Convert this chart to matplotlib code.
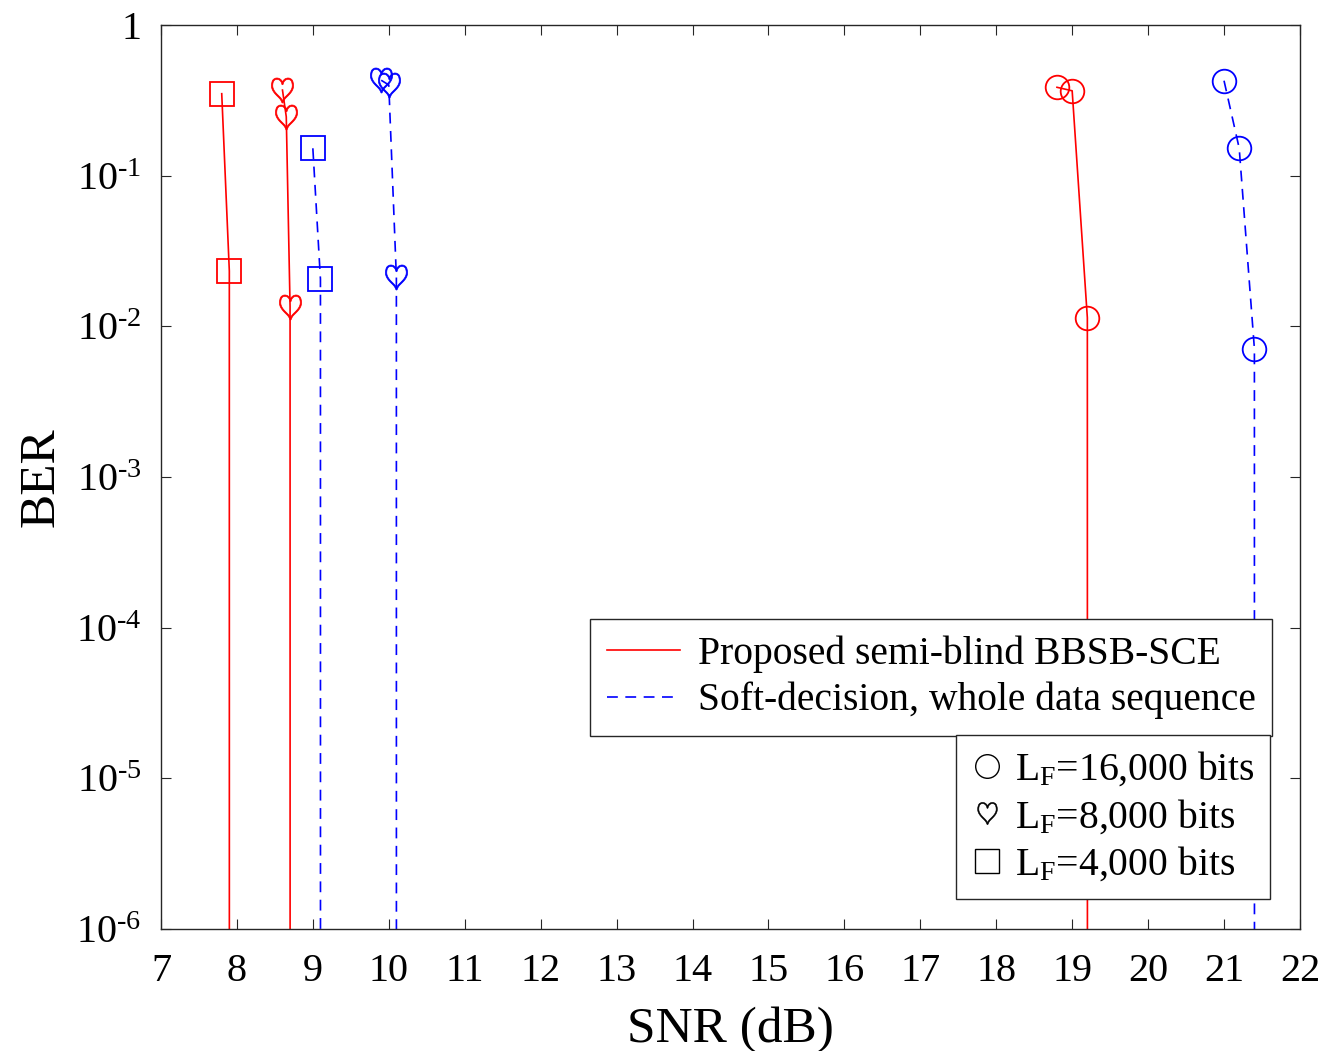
import matplotlib
matplotlib.use("Agg")
import matplotlib.pyplot as plt
from matplotlib.lines import Line2D

plt.rcParams['font.family'] = ['Liberation Serif', 'DejaVu Serif']
plt.rcParams['mathtext.fontset'] = 'custom'
plt.rcParams['mathtext.rm'] = 'Liberation Serif'
plt.rcParams['mathtext.it'] = 'Liberation Serif:italic'

# BER vs SNR, zeros mean no errors were counted (line drops off the axis)
sq_prop_snr = [7.8, 7.9, 8.0, 8.1]
sq_prop_ber = [0.35, 0.0233, 0, 0]
hr_prop_snr = [8.6, 8.65, 8.7, 8.8, 8.9, 9.0]
hr_prop_ber = [0.37, 0.246, 0.0135, 0, 0, 0]
ci_prop_snr = [18.8, 19.0, 19.2, 19.4]
ci_prop_ber = [0.386, 0.366, 0.0114, 0]

sq_soft_snr = [9.0, 9.1, 9.2]
sq_soft_ber = [0.152, 0.0206, 0]
hr_soft_snr = [9.9, 10.0, 10.1, 10.2]
hr_soft_ber = [0.43, 0.40, 0.0213, 0]
ci_soft_snr = [21.0, 21.2, 21.4, 21.6]
ci_soft_ber = [0.427, 0.152, 0.0071, 0]

x_ticks = list(range(7, 23))
y_ticks = [1e-6, 1e-5, 1e-4, 1e-3, 1e-2, 1e-1, 1]
y_tick_labels = [r'$10^{\text{-}6}$', r'$10^{\text{-}5}$', r'$10^{\text{-}4}$',
                 r'$10^{\text{-}3}$', r'$10^{\text{-}2}$', r'$10^{\text{-}1}$', '1']
legend_methods = ['Proposed semi-blind BBSB-SCE', 'Soft-decision, whole data sequence']
legend_sizes = [r'L$_{\rm F}$=16,000 bits', r'L$_{\rm F}$=8,000 bits', r'L$_{\rm F}$=4,000 bits']

heart = r'$\heartsuit$'
red = '#ff0000'
blue = '#0000ff'
dash = (0, (6.5, 4.5))

fig = plt.figure(figsize=(13.25, 10.51), dpi=100)
ax = fig.add_axes([0.1215, 0.1161, 0.8596, 0.8601])
ax.set_yscale('log', nonpositive='clip')

lw = 1.2
mew = 1.3
ax.plot(sq_prop_snr, sq_prop_ber, color=red, lw=lw, marker='s', ms=17, mfc='none', mew=mew)
ax.plot(hr_prop_snr, hr_prop_ber, color=red, lw=lw, marker=heart, ms=18, mew=0.5)
ax.plot(ci_prop_snr, ci_prop_ber, color=red, lw=lw, marker='o', ms=17, mfc='none', mew=mew)
ax.plot(sq_soft_snr, sq_soft_ber, color=blue, lw=lw, ls=dash, marker='s', ms=17, mfc='none', mew=mew)
ax.plot(hr_soft_snr, hr_soft_ber, color=blue, lw=lw, ls=dash, marker=heart, ms=18, mew=0.5)
ax.plot(ci_soft_snr, ci_soft_ber, color=blue, lw=lw, ls=dash, marker='o', ms=17, mfc='none', mew=mew)

ax.set_xlim(7, 22)
ax.set_ylim(1e-6, 1)
ax.set_xticks(x_ticks)
ax.set_xticklabels([str(t) for t in x_ticks])
ax.set_yticks(y_ticks)
ax.set_yticklabels(y_tick_labels)
ax.minorticks_off()

for s in ax.spines.values():
    s.set_color('#262626')
    s.set_linewidth(1.0)
ax.tick_params(axis='both', which='major', direction='in', length=7.5, width=0.8,
               color='#262626', top=True, right=True, labelsize=29)
ax.tick_params(axis='x', pad=17)
ax.tick_params(axis='y', pad=14)

ax.set_xlabel('SNR (dB)', fontsize=37, labelpad=12)
ax.set_ylabel('BER', fontsize=37, labelpad=8)

h1 = [Line2D([], [], color=red, lw=lw),
      Line2D([], [], color=blue, lw=lw, ls=dash)]
leg1 = ax.legend(h1, legend_methods, loc='upper left', bbox_to_anchor=(0.3766, 0.3429),
                 fontsize=28.5, frameon=True, fancybox=False, edgecolor='#262626',
                 framealpha=1, handlelength=1.85, handletextpad=0.45, borderpad=0.42,
                 labelspacing=0.22, borderaxespad=0)
leg1.get_frame().set_linewidth(1.0)
ax.add_artist(leg1)

h2 = [Line2D([], [], color='black', ls='none', marker='o', ms=17, mfc='none', mew=1.0),
      Line2D([], [], color='black', ls='none', marker=heart, ms=16, mew=0.4),
      Line2D([], [], color='black', ls='none', marker='s', ms=17, mfc='none', mew=1.0)]
leg2 = ax.legend(h2, legend_sizes, loc='upper left', bbox_to_anchor=(0.698, 0.2146),
                 fontsize=28.5, frameon=True, fancybox=False, edgecolor='#262626',
                 framealpha=1, handlelength=0.8, handletextpad=0.3, borderpad=0.38,
                 labelspacing=0.22, borderaxespad=0)
leg2.get_frame().set_linewidth(1.0)

fig.savefig('out.png', dpi=100)
plt.close(fig)
